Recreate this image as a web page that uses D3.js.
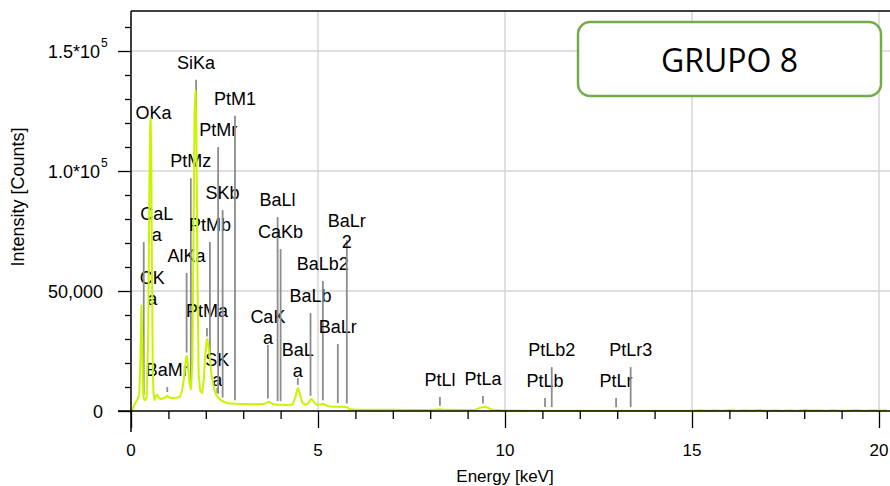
<!DOCTYPE html>
<html><head><meta charset="utf-8">
<script src="https://cdn.jsdelivr.net/npm/d3@7/dist/d3.min.js"></script>
<style>
html,body{margin:0;padding:0;background:#fff;}
svg{display:block;}
text{font-family:"Liberation Sans",Arial,Helvetica,sans-serif;fill:#000;}
</style></head>
<body>
<svg id="chart" width="890" height="486"></svg>
<script>
// ---- data ----
const energy = [0.00,0.03,0.06,0.12,0.18,0.22,0.25,0.27,0.28,0.30,0.32,0.34,0.38,0.42,0.46,0.49,0.51,0.525,0.54,0.56,0.58,0.60,0.63,0.66,0.70,0.74,0.80,0.86,0.92,0.97,1.02,1.10,1.20,1.30,1.36,1.42,1.47,1.49,1.52,1.56,1.60,1.64,1.67,1.70,1.725,1.75,1.78,1.81,1.85,1.90,1.94,1.98,2.02,2.04,2.08,2.12,2.16,2.22,2.28,2.34,2.40,2.50,2.60,2.80,3.00,3.30,3.55,3.64,3.69,3.75,3.85,4.00,4.20,4.32,4.40,4.45,4.47,4.52,4.58,4.66,4.74,4.80,4.84,4.90,4.96,5.05,5.14,5.20,5.30,5.50,5.70,5.78,5.84,6.00,6.50,7.00,7.50,8.00,8.26,8.35,8.55,8.80,9.20,9.35,9.45,9.55,9.65,10.0,11.0,12.0,13.0,14.0,15.0,15.2,15.4,15.6,15.8,16.0,16.2,16.4,16.6,16.8,17.0,17.2,17.4,17.6,17.8,18.0,18.2,18.4,18.6,18.8,19.0,19.2,19.4,19.6,19.8,20.0,20.2,20.4];
const counts = [0,200,1500,3500,5000,7000,20000,38000,44000,30000,10000,5000,4500,6000,30000,90000,118000,122000,110000,60000,20000,8000,4600,6000,6800,5500,5000,5300,5600,6400,5600,5400,5500,5800,8000,14000,22000,23000,20000,12000,9000,20000,70000,125000,133500,115000,50000,15000,8500,7500,12000,22000,29000,30000,26000,20000,14000,9500,6500,5500,4500,3700,3200,3000,2900,2800,2900,3600,3900,3200,2700,2600,2500,2700,6000,9300,9500,7000,3500,2600,3200,4800,4900,3600,2600,2700,3000,2500,1900,1800,1750,1600,700,600,550,500,450,450,700,500,550,450,450,1400,1800,1300,500,200,150,120,100,100,100,300,80,350,120,400,60,300,200,450,100,350,150,280,60,400,180,300,90,380,150,260,420,100,330,200,300];

const peakNames  = ["CK","CaLa","OKa","BaMr","AlKa","PtMz","SiKa","PtMa","PtMb","SKa","PtMr","SKb","PtM1","CaKa","BaLl","CaKb","BaLa","BaLb","BaLb2","BaLr","BaLr2","PtLl","PtLa","PtLb","PtLb2","PtLr","PtLr3"];
const peakLabels = ["CK\na","CaL\na","OKa","BaMr","AlKa","PtMz","SiKa","PtMa","PtMb","SK\na","PtMr","SKb","PtM1","CaK\na","BaLl","CaKb","BaL\na","BaLb","BaLb2","BaLr","BaLr\n2","PtLl","PtLa","PtLb","PtLb2","PtLr","PtLr3"];
const peakEnergy = [0.277,0.341,0.525,0.97,1.487,1.60,1.74,2.03,2.11,2.307,2.33,2.45,2.78,3.66,3.92,4.00,4.46,4.80,5.13,5.53,5.77,8.26,9.41,11.07,11.25,12.97,13.36];
const peakHeight = [43700,70400,117000,10000,57500,97000,138000,34600,70400,9600,110000,83700,123000,27500,80800,67500,13700,40800,54200,27900,71200,5800,6200,5400,18300,5400,18300];

const xTickValues = [0,5,10,15,20];
const xTickLabels = ["0","5","10","15","20"];
const yTickValues = [0,50000,100000,150000];
const yTickLabels = [["0",""],["50,000",""],["1.0*10","5"],["1.5*10","5"]];
const titleText = "GRUPO 8";
const xTitle = "Energy [keV]";
const yTitle = "Intensity [Counts]";

// ---- layout ----
const svg = d3.select("#chart");
const L = 131, R = 879, T = 11, B = 411;
const x = d3.scaleLinear().domain([0,20]).range([L,R]);
const y = d3.scaleLinear().domain([0,50000*(B-T)/120]).range([B,T]);

// grid
const grid = svg.append("g").attr("stroke","#d6d6d6").attr("stroke-width",1.5);
xTickValues.filter(v=>v>0).forEach(v=>{
  grid.append("line").attr("x1",x(v)).attr("x2",x(v)).attr("y1",T).attr("y2",B);
});
yTickValues.filter(v=>v>0).forEach(v=>{
  grid.append("line").attr("x1",L).attr("x2",890).attr("y1",y(v)).attr("y2",y(v));
});

// marker lines
const bis = d3.bisector(d=>d).left;
function specAt(e){
  const i = Math.max(1, Math.min(energy.length-1, bis(energy,e)));
  const e0=energy[i-1], e1=energy[i];
  const t=(e-e0)/(e1-e0);
  return counts[i-1]+(counts[i]-counts[i-1])*t;
}
const labelShift = {CK:11, CaLa:13, OKa:3};
const labelDy = {BaLr2:9};
const mk = svg.append("g");
peakNames.forEach((n,i)=>{
  const e = peakEnergy[i], h = peakHeight[i];
  const bottom = Math.min(h, specAt(e)+1500);
  mk.append("line")
    .attr("x1",x(e)).attr("x2",x(e))
    .attr("y1",y(h)).attr("y2",y(bottom))
    .attr("stroke","#8c8c8c").attr("stroke-width",1.8);
  const lines = peakLabels[i].split("\n");
  const lx = x(e) + (labelShift[n]||0);
  const dy = labelDy[n]||0;
  const t = mk.append("text").attr("text-anchor","middle").attr("font-size",18);
  if(lines.length===1){
    t.attr("x",lx).attr("y",y(h)-11+dy).text(lines[0]);
  } else {
    t.append("tspan").attr("x",lx).attr("y",y(h)-22+dy).text(lines[0]);
    t.append("tspan").attr("x",lx).attr("y",y(h)-1.5+dy).text(lines[1]);
  }
});

// spectrum
const line = d3.line().x((d,i)=>x(energy[i])).y(d=>y(d));
svg.append("path").datum(counts)
  .attr("d",line).attr("fill","none")
  .attr("stroke","#c8f400").attr("stroke-width",2).attr("stroke-linejoin","round");

// axes frame
svg.append("line").attr("x1",L).attr("x2",890).attr("y1",T).attr("y2",T).attr("stroke","#000").attr("stroke-width",1.5);
svg.append("line").attr("x1",L).attr("x2",L).attr("y1",T).attr("y2",432).attr("stroke","#000").attr("stroke-width",1.5);

// x axis
const xAxis = d3.axisBottom(x).tickValues(d3.range(0,21,1)).tickSize(8).tickFormat("");
const gx = svg.append("g").attr("transform",`translate(0,${B})`).call(xAxis);
gx.select(".domain").remove();
gx.selectAll(".tick line").attr("stroke","#000").attr("stroke-width",1.3)
  .attr("y2",d=>xTickValues.includes(d)?17:8);
svg.append("line").attr("x1",118).attr("x2",890).attr("y1",B).attr("y2",B).attr("stroke","#000").attr("stroke-width",1.5);
xTickValues.forEach((v,i)=>{
  svg.append("text").attr("x",x(v)).attr("y",456).attr("text-anchor","middle").attr("font-size",17).text(xTickLabels[i]);
});
svg.append("text").attr("x",x(10)).attr("y",482).attr("text-anchor","middle").attr("font-size",17).text(xTitle);

// y axis
const yAxis = d3.axisLeft(y).tickValues(d3.range(0,170000,10000)).tickSize(6).tickFormat("");
const gy = svg.append("g").attr("transform",`translate(${L},0)`).call(yAxis);
gy.select(".domain").remove();
gy.selectAll(".tick line").attr("stroke","#000").attr("stroke-width",1.3)
  .attr("x2",d=>yTickValues.includes(d)?-13:-6);
yTickValues.forEach((v,i)=>{
  const [main,sup] = yTickLabels[i];
  const t = svg.append("text").attr("x",sup?100:103).attr("y",y(v)+6.5).attr("text-anchor","end").attr("font-size",18);
  t.append("tspan").text(main);
  if(sup){
    svg.append("text").attr("x",101).attr("y",y(v)-4).attr("font-size",12).text(sup);
  }
});
svg.append("text").attr("transform",`translate(24,${(T+B)/2 - 14}) rotate(-90)`)
  .attr("text-anchor","middle").attr("font-size",18).text(yTitle);

// title box
svg.append("rect").attr("x",578).attr("y",22).attr("width",303).attr("height",74).attr("rx",12).attr("ry",12)
  .attr("fill","#fff").attr("stroke","#70ad47").attr("stroke-width",2.5);
svg.append("text").attr("x",729.5).attr("y",72).attr("text-anchor","middle")
  .style("font-family","'Open Sans',sans-serif").attr("font-size",32).text(titleText);
</script>
</body></html>
